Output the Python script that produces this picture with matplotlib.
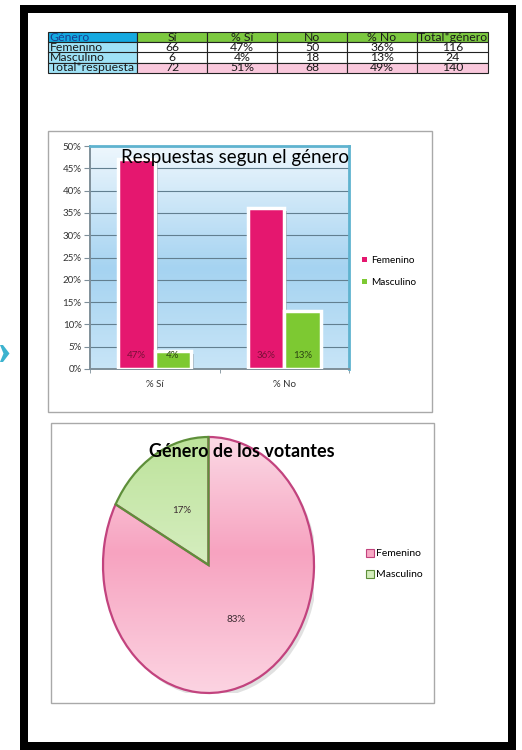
import numpy as np
import matplotlib
matplotlib.use("Agg")
import matplotlib.pyplot as plt
import matplotlib.patheffects as pe
from matplotlib.patches import Rectangle, Polygon, Patch, Circle
from matplotlib.colors import LinearSegmentedColormap

# ---------------- data ----------------
table_header = ["Género", "Sí", "% Sí", "No", "% No", "Total*género"]
row_labels = ["Femenino", "Masculino", "Total*respuesta"]
si_counts = [66, 6, 72]
si_pct = ["47%", "4%", "51%"]
no_counts = [50, 18, 68]
no_pct = ["36%", "13%", "49%"]
total_genero = [116, 24, 140]

bar_categories = ["% Sí", "% No"]
femenino_pct = [47, 36]
masculino_pct = [4, 13]
series_names = ["Femenino", "Masculino"]
y_ticks = list(range(0, 51, 5))

pie_labels = ["Femenino", "Masculino"]
pie_values = [116, 24]

bar_title = "Respuestas segun el género"
pie_title = "Género de los votantes"

# ---------------- setup ----------------
plt.rcParams["font.family"] = ["Lato", "DejaVu Sans"]
W, H = 522, 750
fig = plt.figure(figsize=(W / 100, H / 100), dpi=100)
fig.patch.set_facecolor("white")


def px_axes(x0, y0, x1, y1, **kw):
    return fig.add_axes([x0 / W, 1 - y1 / H, (x1 - x0) / W, (y1 - y0) / H], **kw)


def fx(x):
    return x / W


def fy(y):
    return 1 - y / H


# background decorations
bg = fig.add_axes([0, 0, 1, 1])
bg.set_xlim(0, W)
bg.set_ylim(H, 0)
bg.axis("off")
bg.add_patch(Rectangle((20, 5), 496, 745, facecolor="black", edgecolor="none"))
bg.add_patch(Rectangle((28, 13), 480, 729, facecolor="white", edgecolor="none"))
bg.add_patch(Polygon([(0, 345), (3, 345), (9.5, 353.5), (3, 362), (0, 362), (3.5, 353.5)],
                     closed=True, facecolor="#3cb3cf", edgecolor="none"))
# chart boxes
for (x0, y0, x1, y1) in [(48, 131, 432, 412), (51, 423, 434, 703)]:
    bg.add_patch(Rectangle((x0, y0), x1 - x0, y1 - y0, facecolor="white",
                           edgecolor="#a9a9a9", linewidth=1.0,
                           path_effects=[pe.SimplePatchShadow(offset=(1, -1), alpha=0.25), pe.Normal()]))

# ---------------- table ----------------
tax = px_axes(48, 32, 488, 73)
tax.axis("off")
cell_text = [table_header]
for i in range(len(row_labels)):
    cell_text.append([row_labels[i], str(si_counts[i]), si_pct[i],
                      str(no_counts[i]), no_pct[i], str(total_genero[i])])
nrows, ncols = len(cell_text), len(table_header)
colors = []
for r in range(nrows):
    row = []
    for c in range(ncols):
        if r == 0 and c == 0:
            row.append("#14a9e0")
        elif r == 0:
            row.append("#7cc940")
        elif c == 0:
            row.append("#9fe2f6")
        elif r == nrows - 1:
            row.append("#f9c8dc")
        else:
            row.append("white")
    colors.append(row)
col_w = [89, 70, 70, 70, 70, 71]
tot = sum(col_w)
tbl = tax.table(cellText=cell_text, cellColours=colors,
                colWidths=[w / tot for w in col_w], cellLoc="center",
                bbox=[0, 0, 1, 1])
tbl.auto_set_font_size(False)
tbl.set_fontsize(8.8)
for (r, c), cell in tbl.get_celld().items():
    cell.set_edgecolor("#222222")
    cell.set_linewidth(0.8)
    if c == 0:
        cell.PAD = 0.02
        cell.set_text_props(ha="left")
    if r == 0 and c == 0:
        cell.set_text_props(color="#1b3f8f")
    else:
        cell.set_text_props(color="#1a1a1a")

# ---------------- bar chart ----------------
ax = px_axes(90, 146, 349, 369)
x = np.arange(len(bar_categories))
bw = 0.28
grad = np.linspace(0, 1, 256).reshape(-1, 1)
bg_cmap = LinearSegmentedColormap.from_list(
    "sky", [(0, "#c8e5f7"), (0.45, "#a5d3f1"), (1, "#eef7fd")])
ax.imshow(grad, extent=[-0.5, 1.5, 50, 0], aspect="auto", cmap=bg_cmap, zorder=0)

shadow = [pe.SimplePatchShadow(offset=(2, -2), shadow_rgbFace="#6b7b88", alpha=0.5), pe.Normal()]
b1 = ax.bar(x - bw / 2, femenino_pct, bw, color="#e5176f", edgecolor="white",
            linewidth=2.5, zorder=3, path_effects=shadow)
b2 = ax.bar(x + bw / 2, masculino_pct, bw, color="#7dc932", edgecolor="white",
            linewidth=2.5, zorder=3, path_effects=shadow)
for xi, v in zip(x - bw / 2, femenino_pct):
    ax.text(xi, 3.0, f"{v}%", ha="center", va="center", fontsize=7,
            color="#7a1038", zorder=5)
for xi, v in zip(x + bw / 2, masculino_pct):
    ax.text(xi, 3.0, f"{v}%", ha="center", va="center", fontsize=7,
            color="#2c4512", zorder=5)

ax.set_xlim(-0.5, 1.5)
ax.set_ylim(0, 50)
ax.set_yticks(y_ticks)
ax.set_yticklabels([f"{t}%" for t in y_ticks], fontsize=7, color="#333333")
ax.set_xticks(x)
ax.set_xticklabels(bar_categories, fontsize=7, color="#333333")
ax.set_xticks([-0.5, 0.5, 1.5], minor=True)
ax.tick_params(axis="x", which="major", length=0, pad=8)
ax.tick_params(axis="x", which="minor", length=3, color="#7f8f99")
ax.tick_params(axis="y", length=4, color="#7f8f99", pad=2)
ax.set_axisbelow(True)
ax.yaxis.grid(True, color="#627f90", linewidth=0.8, zorder=1)
for s in ["top", "right"]:
    ax.spines[s].set_color("#5fb3cf")
    ax.spines[s].set_linewidth(2.0)
for s in ["left", "bottom"]:
    ax.spines[s].set_color("#7f8f99")
    ax.spines[s].set_linewidth(1.4)

fig.text(fx(235), fy(158), bar_title, ha="center", va="center", fontsize=13.5,
         color="black", zorder=10)

leg_handles = [Patch(facecolor="#e5176f"), Patch(facecolor="#7dc932")]
fig.legend(leg_handles, series_names, loc="center left",
           bbox_to_anchor=(fx(362), fy(271.5)), frameon=False, fontsize=7.2,
           handlelength=0.45, handleheight=0.45, handletextpad=0.5,
           labelspacing=1.25, borderpad=0, borderaxespad=0)

# ---------------- pie chart ----------------
pax = px_axes(103, 437, 314, 693)
pie_edges = ["#c2437e", "#5e8f3a"]
wedges, texts, autotexts = pax.pie(
    pie_values, startangle=90, counterclock=False, radius=1,
    autopct="%1.0f%%", pctdistance=0.5,
    wedgeprops=dict(linewidth=1.6, edgecolor="none"),
    textprops=dict(fontsize=7, color="#3a2a30"))
pax.set_aspect("auto")
pax.axis("off")
pax.add_patch(Circle((0.03, -0.03), 1.0, facecolor="#888888", alpha=0.25,
                     edgecolor="none", zorder=0))
pink_cmap = LinearSegmentedColormap.from_list(
    "pink", [(0, "#fbd9e5"), (0.45, "#f7a3c0"), (1, "#fcd4e2")])
green_cmap = LinearSegmentedColormap.from_list(
    "green", [(0, "#bde39b"), (1, "#eef8e4")])
for w, cm, ec in zip(wedges, [pink_cmap, green_cmap], pie_edges):
    w.set_facecolor("none")
    im = pax.imshow(grad, extent=[-1, 1, -1, 1], origin="upper", aspect="auto",
                    cmap=cm, zorder=1)
    im.set_clip_path(w)
    w.set_edgecolor(ec)
    w.set_zorder(2)
for t in autotexts:
    t.set_zorder(5)
pax.set_xlim(-1, 1)
pax.set_ylim(-1, 1)

fig.text(fx(242), fy(451), pie_title, ha="center", va="center", fontsize=13,
         fontweight="bold", color="black", zorder=10)

pie_handles = [Patch(facecolor="#f7a8c4", edgecolor="#c2437e", linewidth=0.8),
               Patch(facecolor="#d3edbb", edgecolor="#5e8f3a", linewidth=0.8)]
fig.legend(pie_handles, pie_labels, loc="center left",
           bbox_to_anchor=(fx(366), fy(564)), frameon=False, fontsize=7.5,
           handlelength=0.8, handleheight=0.8, handletextpad=0.2,
           labelspacing=1.1, borderpad=0, borderaxespad=0)

fig.savefig("out.png", dpi=100)
